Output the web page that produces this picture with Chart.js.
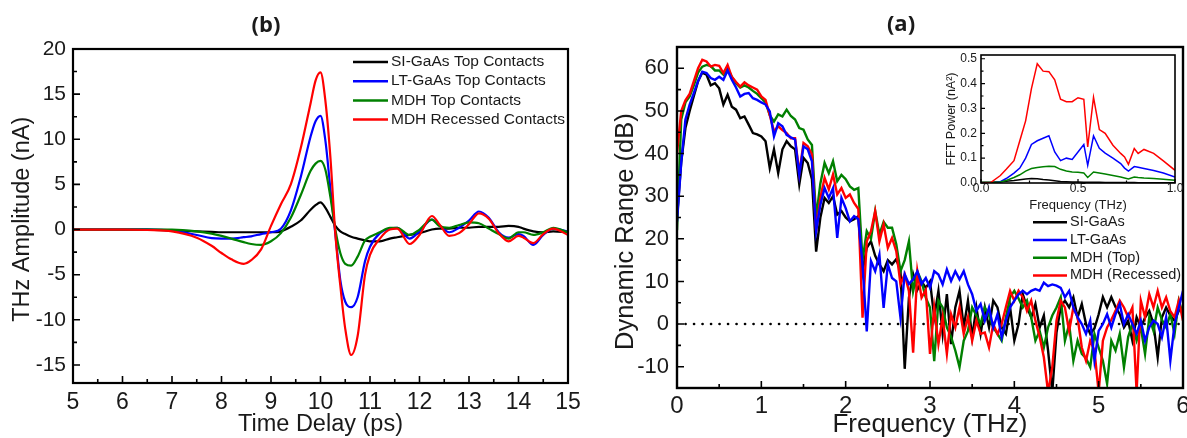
<!DOCTYPE html>
<html>
<head>
<meta charset="utf-8">
<script src="https://cdn.jsdelivr.net/npm/chart.js@4.4.0/dist/chart.umd.min.js"></script>
<style>
  body { margin: 0; background: #fff; }
  #wrap { position: relative; width: 1187px; height: 438px; overflow: hidden; background: #fff; }
  canvas { position: absolute; }
</style>
</head>
<body>
<div id="wrap">
  <canvas id="pulse" width="600" height="438" style="left:0;top:0"></canvas>
  <canvas id="range" width="587" height="438" style="left:600px;top:0"></canvas>
  <canvas id="inset" width="257" height="165" style="left:930px;top:50px"></canvas>
</div>
<script>
// ---- panel (b): time-domain pulses ----
var delay = [5, 5.5, 6, 6.5, 7, 7.5, 7.8, 8, 8.2, 8.45, 8.6, 8.8, 9, 9.2, 9.4, 9.6, 9.8, 9.9, 10, 10.1,
  10.2, 10.3, 10.4, 10.5, 10.62, 10.75, 10.9, 11, 11.2, 11.4, 11.55, 11.8, 12, 12.25, 12.4, 12.6, 12.8, 13, 13.2, 13.4,
  13.6, 13.8, 14, 14.1, 14.3, 14.5, 14.7, 15];
var siPulse = [0, 0, 0, 0, -0.1, -0.2, -0.25, -0.3, -0.3, -0.3, -0.3, -0.3, -0.3, -0.2, 0.3, 1.0, 2.2, 2.7, 3.0, 2.4,
  1.4, 0.4, -0.2, -0.5, -0.8, -1.0, -1.2, -1.3, -1.3, -1.0, -0.85, -0.6, -0.4, 0, 0.1, 0.1, 0.2, 0.2, 0.3, 0.3,
  0.3, 0.4, 0.3, 0.1, -0.2, -0.3, -0.2, -0.3];
var ltPulse = [0, 0, 0, 0, -0.1, -0.6, -0.95, -1.0, -1.0, -0.85, -0.75, -0.5, -0.3, 0.1, 2.1, 5.8, 10.3, 12.0, 12.6, 9.8,
  4.5, -0.5, -5.6, -8.0, -8.6, -7.5, -3.5, -1.9, -0.4, 0.1, 0.2, -1.0, -0.2, 1.1, 0.5, -0.3, 0.2, 1.0, 2.0, 1.3,
  -0.3, -0.9, -0.5, -0.7, -1.7, -0.6, 0.1, -0.2];
var topPulse = [0, 0, 0, 0, 0, -0.2, -0.45, -0.7, -1.0, -1.4, -1.6, -1.7, -1.3, -0.4, 1.3, 3.8, 6.5, 7.3, 7.6, 6.6,
  3.6, 0, -2.6, -3.8, -4.0, -3.0, -1.2, -0.8, -0.3, 0.2, 0.2, -0.6, 0, 1.1, 0.4, 0.2, 0.5, 0.8, 0.7, 0.1,
  -0.5, -1.0, -0.3, -0.3, -0.6, -0.3, 0.2, -0.3];
var recPulse = [0, 0, 0, -0.05, -0.2, -0.9, -1.8, -2.6, -3.3, -3.8, -3.4, -2.2, 0.4, 2.8, 5.0, 9.0, 14.0, 16.5, 17.4, 14.2,
  8.0, -0.5, -6.2, -11.0, -13.9, -11.8, -5.0, -2.8, -1.0, 0, 0.1, -1.6, -0.6, 1.5, 0.6, -0.7, -0.4, 0.6, 1.8, 1.2,
  -0.4, -1.3, -0.7, -0.9, -1.5, -0.5, 0.1, -0.6];
var pulseLabels = ['SI-GaAs Top Contacts', 'LT-GaAs Top Contacts', 'MDH Top Contacts', 'MDH Recessed Contacts'];
var pulseXTicks = [5, 6, 7, 8, 9, 10, 11, 12, 13, 14, 15];
var pulseYTicks = [-15, -10, -5, 0, 5, 10, 15, 20];

// ---- panel (a): dynamic range ----
var freq = [0, 0.05, 0.1, 0.15, 0.2, 0.25, 0.3, 0.35, 0.4, 0.45, 0.5, 0.55, 0.6, 0.65, 0.7, 0.75, 0.8, 0.85, 0.9, 0.95,
  1, 1.05, 1.1, 1.15, 1.2, 1.25, 1.3, 1.35, 1.4, 1.45, 1.5, 1.55, 1.6, 1.65, 1.7, 1.75, 1.8, 1.85, 1.9, 1.95,
  2, 2.05, 2.1, 2.15, 2.2, 2.25, 2.3, 2.35, 2.4, 2.45, 2.5, 2.55, 2.6, 2.65, 2.7, 2.75, 2.8, 2.85, 2.9, 2.95,
  3, 3.05, 3.1, 3.15, 3.2, 3.25, 3.3, 3.35, 3.4, 3.45, 3.5, 3.55, 3.6, 3.65, 3.7, 3.75, 3.8, 3.85, 3.9, 3.95,
  4, 4.05, 4.1, 4.15, 4.2, 4.25, 4.3, 4.35, 4.4, 4.45, 4.5, 4.55, 4.6, 4.65, 4.7, 4.75, 4.8, 4.85, 4.9, 4.95,
  5, 5.05, 5.1, 5.15, 5.2, 5.25, 5.3, 5.35, 5.4, 5.45, 5.5, 5.55, 5.6, 5.65, 5.7, 5.75, 5.8, 5.85, 5.9, 5.95, 6];
var siRange = [25, 38, 46, 50, 53.5, 57, 59, 58.5, 56, 56.5, 55.3, 51.5, 53.8, 51, 50.3, 48.3, 48.7, 46.8, 44.8, 44.5,
  44, 42.9, 36.6, 41, 35.4, 41, 42.9, 41.7, 41, 32.8, 39, 37.8, 34, 17, 25, 29.6, 28.4, 30, 25.7, 26.5,
  25, 24.1, 24.6, 25.3, 12.4, 17.9, 19.4, 16, 14, 12.4, 15, 14, 15.2, 12.4, -10.5, 6.2, 11.7, 8, 10, 8.5,
  10, 1.6, 7.8, -2.3, 7, -4.7, 3.9, 7.8, -0.8, 5.5, -3.1, 3.9, -2.3, 3.9, -0.8, 5.5, 3.9, -0.8, -2.3, 3.9,
  -3.9, 0, 7, 3.9, 1.6, 4.7, -0.8, 2, -6.2, -16, -2, 4, 5.5, 3.9, 6.3, 1.6, 4.7, 0, -2.3, -1,
  2.3, 6.3, 3.9, 6.3, 4, 2.3, -0.8, 0.8, -3.9, 1.6, -0.8, 1.5, 3.1, 0, -7.8, 1.6, 3.9, 2, 0.8, 3.1, 3.9];
var ltRange = [24, 37.8, 48, 51.5, 54.2, 57, 59.2, 58.9, 57.7, 57.3, 58, 57.3, 59.5, 57.3, 55.5, 53.4, 54, 54.2, 53, 52.6,
  52, 51.5, 49.9, 44, 47.1, 46.4, 44.4, 43.8, 43.3, 35, 41.7, 41, 38.2, 21.8, 28, 31.9, 29.6, 31.9, 20.2, 29.6,
  27.2, 24.1, 25.3, 24.6, 14, -1.7, 14.8, 12.4, 16.3, 3.8, 14, 10.8, 10, 1.5, 11.7, 9.4, 10.5, 12.4, 9.4, 10.8,
  8.5, 12.4, 11.6, 9.3, 12.8, 10.1, 12.4, 10.5, 12.4, 9.3, 7, 3.1, 4.7, 0.8, 3.9, -0.8, 2.3, -3.1, 0.8, 3.9,
  5.5, 7, 7.8, 7, 7.8, 8.2, 7.8, 9.7, 8.9, 9.3, 9, 8.5, 6.3, 7.8, 3.9, 1.6, 0, -2.3, 0.8, -8.6,
  -1.6, 0, 2.3, -0.8, 2.3, 4.7, 0, 2.3, 0, -2.3, 0.8, -3.9, -0.8, 0.8, 0, -3.1, 1.6, -8.6, 0, 3.9, 7.8];
var topRange = [22, 48, 52, 53.4, 56, 59, 60.4, 60.8, 60.5, 59.5, 59.5, 58.5, 60, 58, 56.5, 55.5, 56, 55.5, 54.7, 54,
  53, 52, 49, 47.5, 49.2, 48.7, 50.3, 48.8, 48, 46, 45.6, 43.3, 42, 25, 33, 37.8, 35.4, 38.2, 33.5, 35,
  34, 32.3, 31.5, 31.9, 15, 21.8, 20, 26.5, 21, 24, 22.6, 22.6, 18.7, 12.4, 15, 19.4, 7.7, 12.4, 10, 6.2,
  3.9, -8.7, 5.5, 3.9, -0.8, -3, -6.2, -10.1, -3.9, -1.6, 3.9, 2, 0, 3.9, 2, -0.8, -2.3, -3.9, 1.6, 6.3,
  7.8, 6, 3.9, 5.5, 1.6, -3.9, -1.6, -5.5, -0.8, 2, 3.9, 6.3, -3.9, 0, -8.6, -3.9, -7, -8, -10.1, -2.3,
  -5.5, -8.6, -14, -3.9, -6.2, -2.3, -10.1, -3, 0, -3.9, -0.8, -7, 1.6, -1.6, 3.9, 1, -0.8, 2.3, -2.3, 5.5, 2.3];
var recRange = [40, 50, 52.5, 54, 57, 60, 62, 61.6, 60.4, 60.8, 60.6, 58.9, 60.8, 58, 56.8, 55.7, 56.7, 56, 55.5, 55,
  53.4, 52.6, 49, 45.2, 46.4, 45.5, 44.8, 43.6, 43.6, 35.4, 42.5, 41.7, 39.8, 21.8, 29.6, 34.3, 31.6, 35.1, 30.4, 31.9,
  29.6, 30.4, 28.4, 27, 1.5, 19.4, 21.8, 26.5, 19.4, 23.4, 17.9, 20.2, 17.1, 9.4, 11.7, 7.7, -6.7, 12.4, 6.2, 8,
  -7, 3.9, -4.7, 1.6, -7, 2.3, -0.8, 3.9, -2.3, 1.6, -3.9, 0.8, -2.3, -2, -5.5, 0, -2.3, 0, 4, 7.8,
  5.5, 7.8, 6.3, 3.1, 5.5, 0.8, -3, -7.8, -16, -10.1, 0.8, 5.5, 3.9, -1.6, 3.9, 1.6, -5.5, -8.6, -3.9, -6.2,
  -16, -3.9, -0.8, 1, 3.1, 5.5, 3.9, 1.6, 3.9, -16, 5.5, 1.6, 7, 3.9, 7.8, 3.9, 6.3, 3, 1.6, 5.5, 0.8];
var rangeLabels = ['SI-GaAs', 'LT-GaAs', 'MDH (Top)', 'MDH (Recessed)'];
var rangeXTicks = [0, 1, 2, 3, 4, 5, 6];
var rangeYTicks = [-10, 0, 10, 20, 30, 40, 50, 60];

// ---- inset: FFT power ----
var fftFreq = [0, 0.05, 0.1, 0.13, 0.17, 0.2, 0.23, 0.26, 0.29, 0.32, 0.35, 0.38, 0.41, 0.44, 0.47, 0.5,
  0.53, 0.55, 0.58, 0.61, 0.64, 0.68, 0.72, 0.74, 0.76, 0.79, 0.81, 0.84, 0.89, 0.94, 1.0];
var siFft = [0.003, 0.003, 0.005, 0.007, 0.01, 0.013, 0.016, 0.018, 0.017, 0.014, 0.012, 0.009, 0.006, 0.005, 0.004, 0.004,
  0.003, 0.003, 0.003, 0.003, 0.002, 0.002, 0.002, 0.002, 0.002, 0.002, 0.001, 0.001, 0.001, 0.001, 0.001];
var ltFft = [0, 0, 0.005, 0.018, 0.04, 0.06, 0.1, 0.155, 0.17, 0.18, 0.19, 0.125, 0.09, 0.1, 0.095, 0.125,
  0.155, 0.071, 0.19, 0.14, 0.12, 0.1, 0.078, 0.06, 0.048, 0.066, 0.063, 0.058, 0.05, 0.04, 0.024];
var topFft = [0.002, 0.002, 0.004, 0.01, 0.022, 0.033, 0.048, 0.058, 0.062, 0.065, 0.067, 0.066, 0.055, 0.048, 0.044, 0.043,
  0.04, 0.022, 0.044, 0.04, 0.036, 0.03, 0.024, 0.02, 0.016, 0.024, 0.022, 0.02, 0.018, 0.015, 0.011];
var recFft = [0, 0.002, 0.03, 0.055, 0.09, 0.17, 0.25, 0.38, 0.48, 0.45, 0.448, 0.415, 0.337, 0.327, 0.327, 0.343,
  0.337, 0.145, 0.345, 0.215, 0.2, 0.152, 0.119, 0.105, 0.075, 0.139, 0.119, 0.135, 0.119, 0.089, 0.051];
var fftXTicks = [0, 0.5, 1];
var fftYTicks = [0, 0.1, 0.2, 0.3, 0.4, 0.5];

var colors = ['#000000', '#0000ff', '#008000', '#ff0000'];
var sans = '"Liberation Sans", Arial, sans-serif';
var ink = '#1a1a1a';

function pts(xs, ys) {
  return xs.map(function (x, i) { return { x: x, y: ys[i] }; });
}

// inward ticks (major + midway minor) and the closed frame
var frameTicks = {
  id: 'frameTicks',
  afterDatasetsDraw: function (chart, args, o) {
    var ctx = chart.ctx, a = chart.chartArea;
    var marks = function (scale) {
      var v = scale.ticks.map(function (t) { return t.value; });
      var half = (v[1] - v[0]) / 2;
      var out = v.map(function (val) { return [val, o.major]; });
      [v[0] - half].concat(v.map(function (val) { return val + half; })).forEach(function (val) {
        if (val > scale.min && val < scale.max) out.push([val, o.minor]);
      });
      return out;
    };
    ctx.save();
    ctx.strokeStyle = '#000';
    ctx.lineWidth = o.tickWidth;
    ctx.beginPath();
    marks(chart.scales.x).forEach(function (m) {
      var px = chart.scales.x.getPixelForValue(m[0]);
      ctx.moveTo(px, a.bottom); ctx.lineTo(px, a.bottom - m[1]);
    });
    marks(chart.scales.y).forEach(function (m) {
      var py = chart.scales.y.getPixelForValue(m[0]);
      ctx.moveTo(a.left, py); ctx.lineTo(a.left + m[1], py);
    });
    ctx.stroke();
    ctx.lineWidth = o.frameWidth;
    ctx.strokeRect(a.left, a.top, a.right - a.left, a.bottom - a.top);
    ctx.restore();
  }
};

// legend with short line samples
var lineLegend = {
  id: 'lineLegend',
  afterDraw: function (chart, args, o) {
    var ctx = chart.ctx;
    ctx.save();
    ctx.font = o.size + 'px ' + sans;
    ctx.textBaseline = 'middle';
    o.rows.forEach(function (idx, k) {
      var ds = chart.data.datasets[idx];
      var y = o.y + k * o.gap;
      ctx.strokeStyle = ds.borderColor;
      ctx.lineWidth = 2.5;
      ctx.beginPath(); ctx.moveTo(o.x, y); ctx.lineTo(o.x + o.len, y); ctx.stroke();
      ctx.fillStyle = ink;
      ctx.fillText(ds.label, o.x + o.len + 3, y);
    });
    ctx.restore();
  }
};

var panelTag = {
  id: 'panelTag',
  afterDraw: function (chart, args, o) {
    var ctx = chart.ctx;
    ctx.save();
    ctx.font = 'bold 22px "Open Sans", sans-serif';
    ctx.fillStyle = ink;
    ctx.textAlign = 'center';
    ctx.textBaseline = 'middle';
    ctx.fillText(o.text, o.x, o.y);
    ctx.restore();
  }
};

function axisX(min, max, tickVals, tickSize, tickPad, title, titleSize, titlePad, h) {
  return {
    type: 'linear', min: min, max: max,
    grid: { display: false, drawTicks: false }, border: { display: false },
    afterBuildTicks: function (s) { s.ticks = tickVals.map(function (v) { return { value: v }; }); },
    ticks: { autoSkip: false, maxRotation: 0, padding: tickPad, color: ink,
      font: { family: sans, size: tickSize, lineHeight: 1 } },
    title: { display: true, text: title, color: ink, padding: { top: 0, bottom: titlePad },
      font: { family: sans, size: titleSize, lineHeight: 1 } },
    afterFit: function (s) { s.height = h; s.paddingLeft = 0; s.paddingRight = 0; }
  };
}
function axisY(min, max, tickVals, tickSize, tickPad, title, titleSize, titlePad, w) {
  return {
    type: 'linear', min: min, max: max,
    grid: { display: false, drawTicks: false }, border: { display: false },
    afterBuildTicks: function (s) { s.ticks = tickVals.map(function (v) { return { value: v }; }); },
    ticks: { autoSkip: false, padding: tickPad, color: ink,
      font: { family: sans, size: tickSize, lineHeight: 1 } },
    title: { display: true, text: title, color: ink, padding: { top: titlePad, bottom: 0 },
      font: { family: sans, size: titleSize, lineHeight: 1 } },
    afterFit: function (s) { s.width = w; s.paddingTop = 0; s.paddingBottom = 0; }
  };
}

// panel (b)
var pulseSeries = [siPulse, ltPulse, topPulse, recPulse];
new Chart(document.getElementById('pulse'), {
  type: 'line',
  data: {
    datasets: pulseSeries.map(function (s, i) {
      return { label: pulseLabels[i], data: pts(delay, s), borderColor: colors[i], borderWidth: 2.2,
        pointRadius: 0, cubicInterpolationMode: 'monotone', order: 4 - i };
    })
  },
  options: {
    responsive: false, animation: false, devicePixelRatio: 1,
    layout: { padding: { left: 0, right: 32, top: 49, bottom: 0 } },
    plugins: {
      legend: { display: false }, tooltip: { enabled: false },
      frameTicks: { major: 7, minor: 4, tickWidth: 1.6, frameWidth: 2.2 },
      lineLegend: { x: 353, y: 62, gap: 19.2, len: 35, size: 15.5, rows: [0, 1, 2, 3] },
      panelTag: { text: '(b)', x: 266, y: 26 }
    },
    scales: {
      x: axisX(5, 15, pulseXTicks, 23, 8, 'Time Delay (ps)', 23.5, 2, 55),
      y: axisY(-17, 20, pulseYTicks, 21, 7, 'THz Amplitude (nA)\u00a0', 23.5, 11, 73)
    }
  },
  plugins: [frameTicks, lineLegend, panelTag]
});

// panel (a)
var rangeSeries = [siRange, ltRange, topRange, recRange];
var rangeOrder = [4, 1, 3, 2];
var rangeSets = rangeSeries.map(function (s, i) {
  return { label: rangeLabels[i], data: pts(freq, s), borderColor: colors[i], borderWidth: 2.4,
    pointRadius: 0, tension: 0, order: rangeOrder[i] };
});
rangeSets.push({ label: 'zero', data: [{ x: 0, y: 0 }, { x: 6, y: 0 }], borderColor: '#000', borderWidth: 2.6,
  borderDash: [0.1, 8.4], borderCapStyle: 'round', pointRadius: 0, order: 9 });
new Chart(document.getElementById('range'), {
  type: 'line',
  data: { datasets: rangeSets },
  options: {
    responsive: false, animation: false, devicePixelRatio: 1,
    layout: { padding: { left: 0, right: 4, top: 47, bottom: 0 } },
    plugins: {
      legend: { display: false }, tooltip: { enabled: false },
      frameTicks: { major: 7, minor: 4, tickWidth: 1.6, frameWidth: 2.4 },
      lineLegend: { x: 433, y: 222.3, gap: 17.7, len: 34, size: 14.5, rows: [0, 1, 2, 3] },
      panelTag: { text: '(a)', x: 301, y: 25 }
    },
    scales: {
      x: axisX(0, 6, rangeXTicks, 24, 6, 'Frequency (THz)', 26, 0, 50),
      y: axisY(-15, 65, rangeYTicks, 22, 8, 'Dynamic Range (dB)\u00a0\u00a0\u00a0\u00a0', 25.5, 13, 77)
    }
  },
  plugins: [frameTicks, lineLegend, panelTag]
});

// inset
var fftSeries = [siFft, ltFft, topFft, recFft];
var insetX = axisX(0, 1, fftXTicks, 12, 0, 'Frequency (THz)', 13, 3.5, 32);
insetX.ticks.callback = function (v) { return v.toFixed(1); };
var insetY = axisY(0, 0.515, fftYTicks, 12, 4, 'FFT Power (nA\u00b2)', 12.5, 15, 51);
insetY.ticks.callback = function (v) { return v.toFixed(1); };
new Chart(document.getElementById('inset'), {
  type: 'line',
  data: {
    datasets: fftSeries.map(function (s, i) {
      return { label: rangeLabels[i], data: pts(fftFreq, s), borderColor: colors[i], borderWidth: 1.5,
        pointRadius: 0, tension: 0, order: 4 - i };
    })
  },
  options: {
    responsive: false, animation: false, devicePixelRatio: 1,
    layout: { padding: { left: 0, right: 12, top: 5, bottom: 0 } },
    plugins: {
      legend: { display: false }, tooltip: { enabled: false },
      frameTicks: { major: 4, minor: 2.5, tickWidth: 1.2, frameWidth: 1.6 }
    },
    scales: { x: insetX, y: insetY }
  },
  plugins: [frameTicks]
});
</script>
</body>
</html>
